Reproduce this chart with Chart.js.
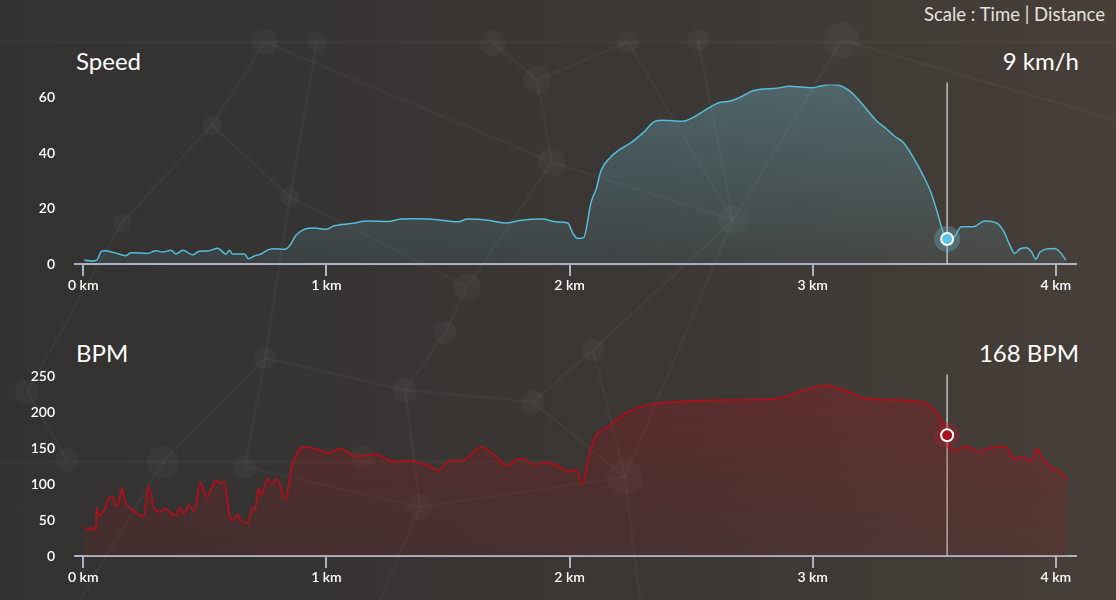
<!DOCTYPE html>
<html lang="en">
<head>
<meta charset="UTF-8">
<title>Speed / BPM</title>
<script src="https://cdn.jsdelivr.net/npm/chart.js"></script>
<style>
  body {
    margin: 0; width: 1116px; height: 600px; overflow: hidden; position: relative;
    background: linear-gradient(90deg, #333231 0%, #3a3734 55%, #473f38 100%);
    font-family: Lato, sans-serif; color: #fff;
  }
  .net { position: absolute; left: 0; top: 0; }
  .title { position: absolute; font-size: 24px; line-height: 24px; }
  .scale { position: absolute; right: 11px; top: 3px; font-size: 18.5px; color: #e4e2df; }
  canvas { position: absolute; left: 0; }
</style>
</head>
<body>
<svg class="net" width="1116" height="600">
  <g stroke="rgba(255,255,255,0.032)" stroke-width="3" fill="none">
    <line x1="0" y1="42" x2="1116" y2="42"/>
    <line x1="265" y1="42" x2="212" y2="125"/><line x1="212" y1="125" x2="122" y2="223"/>
    <line x1="212" y1="125" x2="290" y2="197"/><line x1="317" y1="42" x2="290" y2="197"/>
    <line x1="265" y1="42" x2="552" y2="162"/><line x1="493" y1="43" x2="537" y2="80"/>
    <line x1="537" y1="80" x2="628" y2="42"/><line x1="537" y1="80" x2="552" y2="162"/>
    <line x1="552" y1="162" x2="733" y2="220"/><line x1="628" y1="42" x2="733" y2="220"/>
    <line x1="698" y1="40" x2="733" y2="220"/><line x1="842" y1="40" x2="733" y2="220"/>
    <line x1="842" y1="40" x2="1116" y2="120"/><line x1="290" y1="197" x2="467" y2="287"/>
    <line x1="552" y1="162" x2="467" y2="287"/><line x1="467" y1="287" x2="445" y2="333"/>
    <line x1="445" y1="333" x2="405" y2="390"/><line x1="405" y1="390" x2="533" y2="402"/>
    <line x1="533" y1="402" x2="593" y2="350"/><line x1="593" y1="350" x2="733" y2="220"/>
    <line x1="405" y1="390" x2="420" y2="507"/><line x1="420" y1="507" x2="625" y2="477"/>
    <line x1="533" y1="402" x2="625" y2="477"/><line x1="265" y1="358" x2="163" y2="462"/>
    <line x1="265" y1="358" x2="245" y2="467"/><line x1="0" y1="462" x2="560" y2="462"/>
    <line x1="265" y1="358" x2="405" y2="390"/><line x1="245" y1="467" x2="420" y2="507"/>
    <line x1="67" y1="460" x2="27" y2="392"/><line x1="122" y1="223" x2="27" y2="392"/>
    <line x1="733" y1="220" x2="625" y2="477"/><line x1="593" y1="350" x2="625" y2="477"/>
    <line x1="163" y1="462" x2="80" y2="600"/><line x1="420" y1="507" x2="380" y2="600"/>
    <line x1="625" y1="477" x2="640" y2="600"/><line x1="265" y1="358" x2="290" y2="197"/>
  </g>
  <g fill="rgba(255,255,255,0.032)">
    <circle cx="265" cy="42" r="13"/><circle cx="317" cy="42" r="10"/><circle cx="493" cy="43" r="13"/>
    <circle cx="537" cy="80" r="14"/><circle cx="628" cy="42" r="11"/><circle cx="698" cy="40" r="11"/>
    <circle cx="842" cy="40" r="18"/><circle cx="212" cy="125" r="10"/><circle cx="290" cy="197" r="10"/>
    <circle cx="122" cy="223" r="10"/><circle cx="552" cy="162" r="14"/><circle cx="733" cy="220" r="15"/>
    <circle cx="467" cy="287" r="14"/><circle cx="445" cy="333" r="12"/><circle cx="593" cy="350" r="12"/>
    <circle cx="265" cy="358" r="11"/><circle cx="405" cy="390" r="12"/><circle cx="533" cy="402" r="12"/>
    <circle cx="420" cy="507" r="13"/><circle cx="625" cy="477" r="18"/><circle cx="163" cy="462" r="16"/>
    <circle cx="245" cy="467" r="12"/><circle cx="67" cy="460" r="12"/><circle cx="27" cy="392" r="12"/>
    <circle cx="363" cy="457" r="12"/>
  </g>
</svg>

<div class="scale">Scale : Time | Distance</div>
<div class="title" style="left:76px; top:49px;">Speed</div>
<div class="title" style="right:37px; top:49px;">9 km/h</div>
<div class="title" style="left:76px; top:341px;">BPM</div>
<div class="title" style="right:37px; top:341px;">168 BPM</div>

<canvas id="speedChart" width="1116" height="244" style="top:56px;"></canvas>
<canvas id="bpmChart" width="1116" height="244" style="top:348px;"></canvas>

<script>
// distance (km) / speed (km/h)
const speedKm = [0.004,0.038,0.056,0.073,0.086,0.128,0.176,0.196,0.265,0.299,0.326,0.361,0.381,0.409,0.450,0.477,0.512,0.553,0.587,0.601,0.614,0.663,0.679,0.704,0.731,0.758,0.786,0.827,0.848,0.875,0.909,0.951,0.999,1.033,1.102,1.170,1.252,1.307,1.362,1.424,1.493,1.540,1.581,1.671,1.739,1.794,1.890,1.945,1.993,2.014,2.034,2.058,2.089,2.110,2.130,2.165,2.206,2.247,2.302,2.350,2.384,2.466,2.521,2.576,2.617,2.658,2.700,2.754,2.795,2.851,2.905,2.995,3.029,3.070,3.097,3.145,3.180,3.221,3.262,3.303,3.337,3.372,3.413,3.454,3.488,3.516,3.536,3.553,3.577,3.612,3.660,3.708,3.756,3.783,3.811,3.831,3.852,3.879,3.900,3.918,3.934,3.962,3.996,4.016,4.041];
const speedKmh = [1.4,1.1,1.4,4.4,4.8,4.1,3.0,4.1,3.8,4.8,4.3,5.0,3.6,5.0,3.3,4.6,4.7,5.7,3.6,5.0,3.6,3.6,1.9,2.9,3.6,5.0,5.5,5.3,6.5,10.4,12.5,13.0,12.5,13.8,14.6,15.5,15.3,16.2,16.3,16.2,15.6,15.2,16.2,15.7,14.8,15.7,16.2,15.2,14.8,11.0,9.2,9.5,22.4,27.2,33.8,38.2,41.3,43.4,47.3,51.4,51.9,51.5,53.5,56.5,58.3,58.7,60.1,62.5,63.1,63.4,64.1,63.6,64.1,64.8,64.7,62.9,60.1,55.9,51.7,48.8,46.1,43.9,38.6,32.0,25.4,17.6,11.6,9.0,9.2,13.4,13.4,15.5,14.8,12.2,6.8,3.8,5.4,5.9,4.4,1.7,4.2,5.4,5.6,4.4,1.4];

// distance (km) / heart rate
const bpmKm = [0.004,0.021,0.034,0.045,0.052,0.056,0.062,0.086,0.100,0.114,0.121,0.135,0.145,0.158,0.169,0.182,0.210,0.237,0.251,0.267,0.279,0.292,0.320,0.336,0.361,0.381,0.399,0.413,0.436,0.457,0.481,0.509,0.546,0.567,0.580,0.605,0.619,0.633,0.649,0.676,0.697,0.707,0.720,0.731,0.758,0.775,0.797,0.830,0.861,0.909,0.951,1.012,1.060,1.115,1.204,1.280,1.335,1.396,1.431,1.458,1.506,1.561,1.637,1.691,1.739,1.801,1.863,1.904,1.945,2.000,2.028,2.055,2.075,2.103,2.165,2.233,2.302,2.384,2.507,2.645,2.741,2.851,2.974,3.056,3.138,3.221,3.330,3.413,3.468,3.509,3.536,3.553,3.564,3.577,3.632,3.680,3.728,3.797,3.824,3.865,3.893,3.907,3.923,3.941,3.962,3.989,4.024,4.044];
const bpmValues = [40.7,36,39.8,37,38.4,67.6,57,64,77.8,82.4,81.5,70.8,73.1,94,80,69.4,62.5,56,57,97.2,84.7,66.2,61.5,66.2,59.3,56,67.1,59.3,70.8,63,101.8,82.4,105.6,101,102.4,52.3,50,57.9,50,45.4,67.6,63.9,94,84.7,107.9,100,107.9,80,128.7,151.8,149.6,143.5,149.6,139.3,141.3,131,132.9,128.7,124,119.4,132.4,133.3,151.8,140.3,126.4,135.7,127.4,130.6,126.4,118,119.4,101,133.3,163.5,182,199,208.3,213,215.7,217.1,217.6,219,231.5,237.5,229.6,219,217.6,215.7,212,200.4,184.3,168,151.8,146.2,152.8,144.9,150.4,151.8,135.7,137.9,133.3,135.7,149.6,137.9,128.7,120.8,115.7,105.6];

// current cursor position
const cursorKm = 3.553;
const cursorSpeed = 9;
const cursorBpm = 168;

const xMin = -0.034, xMax = 4.083;
const axisColor = '#aeb0c4';
const tickFont = { family: 'Lato', size: 14, weight: '600' };

// vertical line at the cursor
const cursorLine = {
    id: 'cursorLine',
    beforeDatasetsDraw(chart) {
        const x = chart.scales.x.getPixelForValue(cursorKm);
        const area = chart.chartArea;
        const ctx = chart.ctx;
        ctx.save();
        ctx.strokeStyle = 'rgba(215,215,215,0.85)';
        ctx.lineWidth = 1.5;
        ctx.beginPath();
        ctx.moveTo(x, area.top - 2);
        ctx.lineTo(x, area.bottom);
        ctx.stroke();
        ctx.restore();
    }
};

function buildChart(id, km, values, cfg) {
    const ctx = document.getElementById(id).getContext('2d');
    const points = km.map((d, i) => ({ x: d, y: values[i] }));
    return new Chart(ctx, {
        type: 'line',
        data: {
            datasets: [
                {
                    data: [{ x: cursorKm, y: cfg.cursorValue }],
                    showLine: false, pointRadius: 6, pointBorderWidth: 2,
                    pointBackgroundColor: cfg.dot, pointBorderColor: '#ffffff', order: 0
                },
                {
                    data: [{ x: cursorKm, y: cfg.cursorValue }],
                    showLine: false, pointRadius: 13, pointBorderWidth: 0,
                    pointBackgroundColor: cfg.halo, order: 1
                },
                {
                    data: points,
                    borderColor: cfg.line,
                    borderWidth: cfg.lineWidth,
                    pointRadius: 0,
                    cubicInterpolationMode: 'monotone',
                    fill: 'origin',
                    backgroundColor: c => {
                        const a = c.chart.chartArea;
                        if (!a) return 'transparent';
                        const g = c.chart.ctx.createLinearGradient(0, a.top, 0, a.bottom);
                        g.addColorStop(0, cfg.fillTop);
                        g.addColorStop(1, cfg.fillBottom);
                        return g;
                    },
                    order: 2
                }
            ]
        },
        options: {
            responsive: false,
            animation: false,
            events: [],
            // the y tick padding (20) already keeps the plot away from the canvas top
            layout: { autoPadding: false, padding: { top: 0, right: 40, left: 0, bottom: 0 } },
            plugins: { legend: { display: false }, tooltip: { enabled: false } },
            scales: {
                x: {
                    type: 'linear', min: xMin, max: xMax,
                    afterFit: s => { s.height = 36; },
                    border: { display: true, color: axisColor, width: 2 },
                    grid: { display: true, drawOnChartArea: false, drawTicks: true, tickLength: 12, color: axisColor, lineWidth: 2 },
                    ticks: {
                        stepSize: 1, includeBounds: false, padding: 1, maxRotation: 0, autoSkip: false,
                        color: '#ffffff', font: tickFont,
                        callback: v => v + ' km'
                    }
                },
                y: {
                    min: 0, max: cfg.yMax,
                    afterFit: s => { s.width = 75; },
                    border: { display: false },
                    grid: { display: false, drawTicks: false },
                    ticks: { stepSize: cfg.step, includeBounds: false, padding: 20, color: '#ffffff', font: tickFont }
                }
            }
        },
        plugins: [cursorLine]
    });
}

buildChart('speedChart', speedKm, speedKmh, {
    cursorValue: cursorSpeed,
    yMax: Math.max(...speedKmh),
    step: 20,
    line: '#56bcdc', lineWidth: 1.5,
    dot: '#5cc3e4', halo: 'rgba(110,175,195,0.35)',
    fillTop: 'rgba(110,180,200,0.36)', fillBottom: 'rgba(110,180,200,0.10)'
});

buildChart('bpmChart', bpmKm, bpmValues, {
    cursorValue: cursorBpm,
    yMax: 250,
    step: 50,
    line: '#a8121e', lineWidth: 2,
    dot: '#a8121e', halo: 'rgba(170,30,40,0.35)',
    fillTop: 'rgba(150,25,30,0.36)', fillBottom: 'rgba(150,25,30,0.14)'
});
</script>
</body>
</html>
